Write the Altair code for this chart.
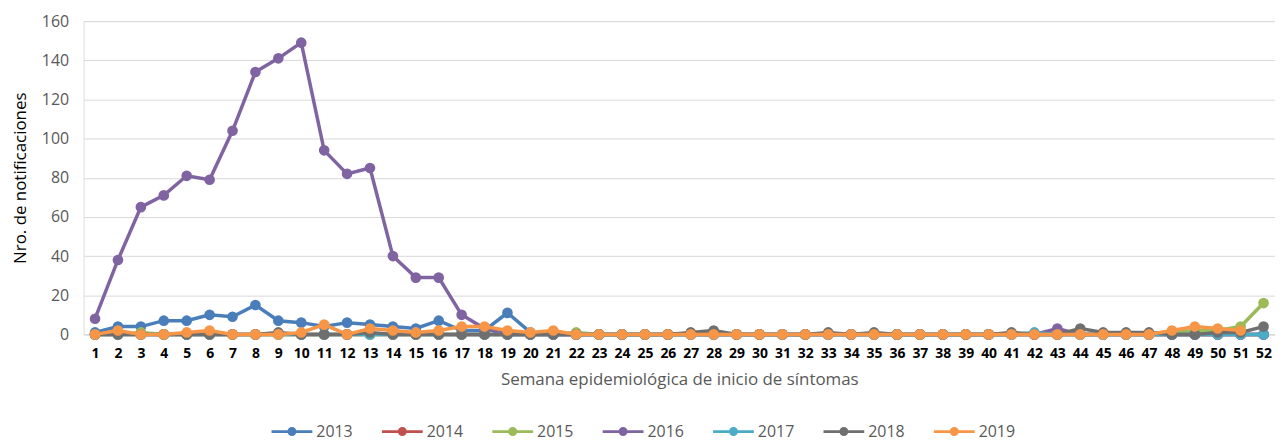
import altair as alt
import pandas as pd

weeks = list(range(1, 53))
years = ["2013", "2014", "2015", "2016", "2017", "2018", "2019"]
colors = ["#4A7EBB", "#C0504D", "#9BBB59", "#8064A2", "#4BACC6", "#6F6F6F", "#F79646"]

s2013 = [1, 4, 4, 7, 7, 10, 9, 15, 7, 6, 4, 6, 5, 4, 3, 7, 2, 2, 11, 1,
         0, 0, 0, 0, 0, 0, 0, 0, 0, 0, 0, 0, 0, 0, 0, 0, 0, 0, 0, 0,
         0, 0, 0, 0, 0, 0, 0, 0, 0, 0, 0, 0]
s2014 = [0] * 52
s2015 = [0, 0, 1, 0, 0, 0, 0, 0, 0, 0, 0, 0, 0, 0, 0, 0, 0, 0, 0, 0,
         0, 1, 0, 0, 0, 0, 0, 0, 0, 0, 0, 0, 0, 0, 0, 0, 0, 0, 0, 0,
         0, 0, 0, 0, 0, 0, 0, 1, 2, 2, 4, 16]
s2016 = [8, 38, 65, 71, 81, 79, 104, 134, 141, 149, 94, 82, 85, 40, 29, 29, 10, 3, 0, 0,
         0, 0, 0, 0, 0, 0, 0, 0, 0, 0, 0, 0, 0, 0, 0, 0, 0, 0, 0, 0,
         0, 0, 3, 0, 0, 0, 0, 0, 0, 0, 0, 0]
s2017 = [0, 0, 0, 0, 0, 0, 0, 0, 0, 0, 0, 0, 0, 0, 0, 0, 0, 0, 0, 0,
         0, 0, 0, 0, 0, 0, 0, 0, 0, 0, 0, 0, 0, 0, 0, 0, 0, 0, 0, 0,
         0, 1, 0, 0, 0, 0, 0, 0, 0, 0, 0, 0]
s2018 = [0, 0, 0, 0, 0, 0, 0, 0, 1, 0, 0, 0, 1, 0, 0, 0, 0, 0, 0, 0,
         0, 0, 0, 0, 0, 0, 1, 2, 0, 0, 0, 0, 1, 0, 1, 0, 0, 0, 0, 0,
         1, 0, 0, 3, 1, 1, 1, 0, 0, 1, 1, 4]
s2019 = [0, 2, 0, 0, 1, 2, 0, 0, 0, 1, 5, 0, 3, 2, 1, 2, 4, 4, 2, 1,
         2, 0, 0, 0, 0, 0, 0, 0, 0, 0, 0, 0, 0, 0, 0, 0, 0, 0, 0, 0,
         0, 0, 0, 0, 0, 0, 0, 2, 4, 3, 2, None]

series = [s2013, s2014, s2015, s2016, s2017, s2018, s2019]

rows = []
for yr, vals in zip(years, series):
    for w, v in zip(weeks, vals):
        if v is not None:
            rows.append({"week": w, "year": yr, "value": v})
df = pd.DataFrame(rows)

FONT = "Open Sans"

x_enc = alt.X(
    "week:O",
    scale=alt.Scale(type="point", padding=0.5),
    axis=alt.Axis(
        title="Semana epidemiológica de inicio de síntomas",
        labelAngle=0,
        labelFont=FONT,
        labelFontSize=14,
        labelFontWeight="bold",
        labelColor="#000000",
        labelPadding=12,
        ticks=False,
        domain=True,
        domainColor="#D9D9D9",
        grid=False,
        titleFont=FONT,
        titleFontSize=17,
        titleFontWeight="normal",
        titleColor="#595959",
        titlePadding=11,
    ),
)
y_enc = alt.Y(
    "value:Q",
    scale=alt.Scale(domain=[0, 160], nice=False),
    axis=alt.Axis(
        title="Nro. de notificaciones",
        values=[0, 20, 40, 60, 80, 100, 120, 140, 160],
        labelFont=FONT,
        labelFontSize=16,
        labelColor="#595959",
        labelPadding=15,
        ticks=False,
        domain=False,
        gridColor="#D9D9D9",
        gridWidth=1,
        titleFont=FONT,
        titleFontSize=17,
        titleFontWeight="normal",
        titleColor="#000000",
        titlePadding=12,
    ),
)

color_scale = alt.Scale(domain=years, range=colors)

legend_path = ("M-2,-0.14H2V0.14H-2Z "
               "M0.44,0A0.44,0.44 0 1,1 -0.44,0A0.44,0.44 0 1,1 0.44,0Z")

leg = alt.Legend(
    title=None,
    orient="none",
    legendX=199,
    legendY=402,
    direction="horizontal",
    columns=7,
    symbolType=legend_path,
    symbolSize=420,
    symbolStrokeWidth=0,
    labelFont=FONT,
    labelFontSize=16,
    labelColor="#595959",
    labelOffset=14,
    columnPadding=29,
    padding=0,
    values=years,
)

layers = []
for yr in years:
    base = alt.Chart(df).transform_filter(alt.datum.year == yr)
    line = base.mark_line(strokeWidth=3.5).encode(
        x=x_enc, y=y_enc,
        color=alt.Color("year:N", scale=color_scale, legend=leg),
    )
    pts = base.mark_point(filled=True, size=115, opacity=1).encode(
        x=x_enc, y=y_enc,
        color=alt.Color("year:N", scale=color_scale, legend=leg),
    )
    layers.extend([line, pts])

chart = alt.layer(*layers).properties(
    width=1198, height=315,
    autosize=alt.AutoSizeParams(type="none"),
    padding={"left": 76, "top": 12, "right": 0, "bottom": 106},
).configure_view(stroke=None).configure(background="white")

chart.save("out.html", embed_options={"renderer": "svg", "actions": False})
